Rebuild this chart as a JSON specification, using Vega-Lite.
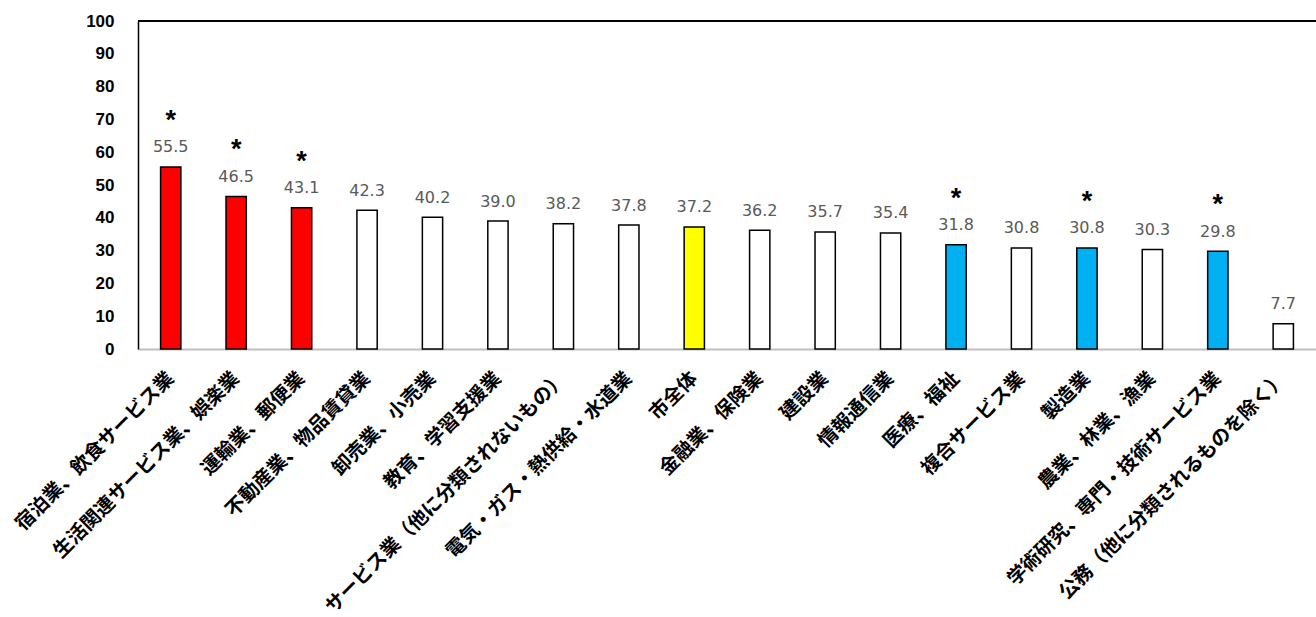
{
  "$schema": "https://vega.github.io/schema/vega-lite/v6.json",
  "width": 1178,
  "height": 328,
  "autosize": {"type": "none"},
  "padding": {"left": 138, "top": 21, "right": 0, "bottom": 268},
  "background": "white",
  "config": {
    "view": {"stroke": null},
    "axisY": {
      "title": null, "labelFont": "Liberation Sans", "labelFontWeight": "bold", "labelFontSize": 17,
      "labelColor": "black", "labelPadding": 24, "ticks": false, "grid": false,
      "labelOverlap": false, "domainColor": "black", "domainWidth": 1.5
    },
    "axisX": {
      "title": null, "labelAngle": -45, "labelAlign": "right", "labelBaseline": "middle",
      "labelFont": "Noto Sans CJK JP", "labelFontWeight": "bold", "labelFontSize": 19.5,
      "labelColor": "black", "labelPadding": 26, "ticks": false, "labelLimit": 600,
      "labelOverlap": false, "domainColor": "#BFBFBF", "domainWidth": 2
    }
  },
  "data": {
    "values": [
      {"name": "宿泊業、飲食サービス業", "value": 55.5, "group": "high", "star": true},
      {"name": "生活関連サービス業、娯楽業", "value": 46.5, "group": "high", "star": true},
      {"name": "運輸業、郵便業", "value": 43.1, "group": "high", "star": true},
      {"name": "不動産業、物品賃貸業", "value": 42.3, "group": "normal", "star": false},
      {"name": "卸売業、小売業", "value": 40.2, "group": "normal", "star": false},
      {"name": "教育、学習支援業", "value": 39.0, "group": "normal", "star": false},
      {"name": "サービス業（他に分類されないもの）", "value": 38.2, "group": "normal", "star": false},
      {"name": "電気・ガス・熱供給・水道業", "value": 37.8, "group": "normal", "star": false},
      {"name": "市全体", "value": 37.2, "group": "all", "star": false},
      {"name": "金融業、保険業", "value": 36.2, "group": "normal", "star": false},
      {"name": "建設業", "value": 35.7, "group": "normal", "star": false},
      {"name": "情報通信業", "value": 35.4, "group": "normal", "star": false},
      {"name": "医療、福祉", "value": 31.8, "group": "low", "star": true},
      {"name": "複合サービス業", "value": 30.8, "group": "normal", "star": false},
      {"name": "製造業", "value": 30.8, "group": "low", "star": true},
      {"name": "農業、林業、漁業", "value": 30.3, "group": "normal", "star": false},
      {"name": "学術研究、専門・技術サービス業", "value": 29.8, "group": "low", "star": true},
      {"name": "公務（他に分類されるものを除く）", "value": 7.7, "group": "normal", "star": false}
    ]
  },
  "layer": [
    {
      "mark": {"type": "bar", "stroke": "black", "strokeWidth": 1.5},
      "encoding": {
        "x": {
          "field": "name", "type": "nominal", "sort": null,
          "scale": {"paddingInner": 0.69, "paddingOuter": 0.345},
          "axis": {"labelOverlap": false}
        },
        "y": {
          "field": "value", "type": "quantitative",
          "scale": {"domain": [0, 100], "nice": false},
          "axis": {"values": [0, 10, 20, 30, 40, 50, 60, 70, 80, 90, 100], "labelOverlap": false}
        },
        "fill": {
          "field": "group", "type": "nominal",
          "scale": {"domain": ["high", "normal", "all", "low"], "range": ["#FF0000", "#FFFFFF", "#FFFF00", "#00B0F0"]},
          "legend": null
        }
      }
    },
    {
      "mark": {"type": "text", "baseline": "alphabetic", "dy": -14.5, "font": "DejaVu Sans", "fontSize": 16, "fill": "#595959"},
      "encoding": {
        "x": {"field": "name", "type": "nominal", "sort": null, "axis": {"labelOverlap": false}},
        "y": {"field": "value", "type": "quantitative", "axis": {"values": [0, 10, 20, 30, 40, 50, 60, 70, 80, 90, 100], "labelOverlap": false}},
        "text": {"field": "value", "type": "quantitative", "format": ".1f"}
      }
    },
    {
      "transform": [{"filter": "datum.star"}],
      "mark": {"type": "text", "baseline": "alphabetic", "dy": -38, "font": "Liberation Sans", "fontWeight": "bold", "fontSize": 27, "fill": "black"},
      "encoding": {
        "x": {"field": "name", "type": "nominal", "sort": null, "axis": {"labelOverlap": false}},
        "y": {"field": "value", "type": "quantitative", "axis": {"values": [0, 10, 20, 30, 40, 50, 60, 70, 80, 90, 100], "labelOverlap": false}},
        "text": {"value": "*"}
      }
    },
    {
      "mark": {"type": "rule", "color": "black", "strokeWidth": 1.5},
      "encoding": {"y": {"datum": 100, "axis": {"values": [0, 10, 20, 30, 40, 50, 60, 70, 80, 90, 100], "labelOverlap": false}}}
    }
  ]
}
